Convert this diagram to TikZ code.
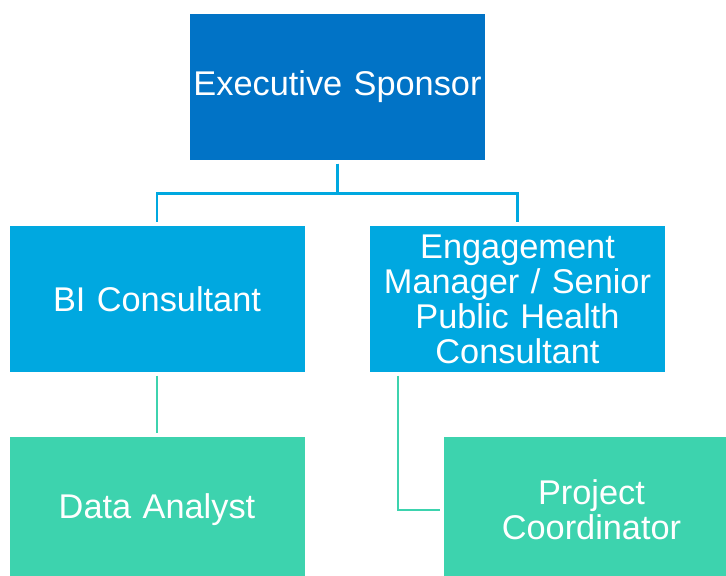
\documentclass[tikz,border=0pt]{standalone}
\usepackage{fontspec}
\setmainfont{Liberation Sans}
\usetikzlibrary{positioning}

\definecolor{topblue}{RGB}{1,115,198}
\definecolor{midblue}{RGB}{0,168,224}
\definecolor{lowgreen}{RGB}{61,211,174}

\begin{document}
\begin{tikzpicture}[
  role/.style={minimum width=8.85cm, minimum height=4.38cm, text width=8.3cm,
    align=center, text=white, inner sep=0pt,
    font=\fontsize{29.3}{29.8}\selectfont},
  bluelink/.style={draw=midblue, line width=2.2pt, shorten <=0.1cm, shorten >=0.12cm},
  greenlink/.style={draw=lowgreen, line width=1.8pt, shorten <=0.1cm, shorten >=0.1cm}
]

%frame
\useasboundingbox (0,0) rectangle (21.78,-17.28);
\clip (0,0) rectangle (21.78,-17.28);

%boxes
\node[role, fill=topblue, text width=8.85cm] (exec) at (10.125,-2.61) {Executive Sponsor};

\node[role, fill=midblue] (bi) at (4.71,-8.97) {BI Consultant};
\node[role, fill=midblue] (eng) at (15.525,-8.97) {Engagement Manager / Senior Public Health Consultant};

\node[role, fill=lowgreen] (data) at (4.71,-15.3) {Data Analyst};
\node[role, fill=lowgreen] (proj) at (17.745,-15.3) {Project\\Coordinator};

%links
\draw[bluelink] (exec.south) -- ++(0,-0.99) -| (bi.north);
\draw[bluelink] (exec.south) -- ++(0,-0.99) -| (eng.north);

\draw[greenlink] (bi.south) -- (data.north);
\draw[greenlink] ([xshift=0.84cm]eng.south west) |- (proj.west);

\end{tikzpicture}
\end{document}
